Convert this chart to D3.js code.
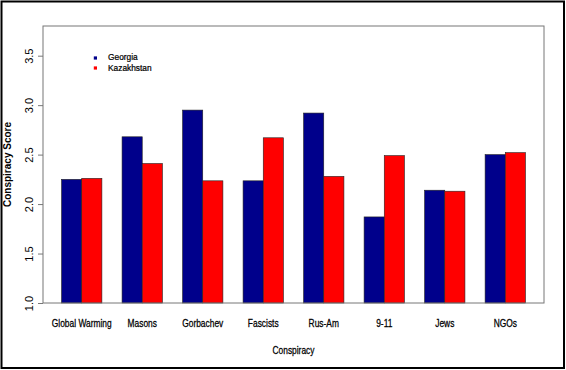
<!DOCTYPE html>
<html>
<head>
<meta charset="utf-8">
<script src="https://cdn.jsdelivr.net/npm/d3@7"></script>
<style>
  html, body { margin: 0; padding: 0; background: #fff; }
  svg { display: block; }
  text { font-family: "Liberation Sans", Arial, sans-serif; fill: #000; }
  .heavy { stroke: #000; stroke-width: 0.25px; }
</style>
</head>
<body>
<script>
const categories = ["Global Warming", "Masons", "Gorbachev", "Fascists", "Rus-Am", "9-11", "Jews", "NGOs"];
const seriesNames = ["Georgia", "Kazakhstan"];
const georgia = [2.25, 2.68, 2.95, 2.235, 2.92, 1.87, 2.14, 2.50];
const kazakhstan = [2.26, 2.41, 2.235, 2.67, 2.28, 2.49, 2.13, 2.52];
const yTicks = [1.0, 1.5, 2.0, 2.5, 3.0, 3.5];
const colors = ["#00008B", "#FF0000"];

const W = 566, H = 370;
const box = { left: 43, right: 544, top: 26, bottom: 303 };
const NARROW = 0.84;

const svg = d3.select("body").append("svg").attr("width", W).attr("height", H);

// outer frame
svg.append("rect").attr("x", 1.5).attr("y", 1.5).attr("width", W - 3.5).attr("height", H - 3.5)
  .attr("fill", "none").attr("stroke", "#000").attr("stroke-width", 2);

// unit scale (R barplot style: 24 units, 4% expansion)
const u = d3.scaleLinear().domain([0.08, 24.92]).range([box.left, box.right]);
const x0 = d3.scaleBand().domain(categories)
  .range([u(0.5), u(24.5)]).paddingInner(1/3).paddingOuter(1/6);
const x1 = d3.scaleBand().domain(seriesNames).range([0, x0.bandwidth()]);
const y = d3.scaleLinear().domain([1, 3.8]).range([box.bottom, box.top]);

const data = categories.map((c, i) => ({ cat: c, vals: [georgia[i], kazakhstan[i]] }));

const g = svg.append("g");
g.selectAll("g.grp").data(data).enter().append("g")
  .attr("transform", d => `translate(${x0(d.cat)},0)`)
  .selectAll("rect").data(d => d.vals.map((v, j) => ({ s: seriesNames[j], v, j })))
  .enter().append("rect")
  .attr("x", d => x1(d.s))
  .attr("y", d => y(d.v))
  .attr("width", x1.bandwidth())
  .attr("height", d => y(1) - y(d.v))
  .attr("fill", d => colors[d.j])
  .attr("stroke", "#222").attr("stroke-width", 0.6);

// plot box
svg.append("rect").attr("x", box.left).attr("y", box.top)
  .attr("width", box.right - box.left).attr("height", box.bottom - box.top)
  .attr("fill", "none").attr("stroke", "#777").attr("stroke-width", 1);

// y axis
const yAxis = d3.axisLeft(y).tickValues(yTicks).tickFormat(d3.format(".1f")).tickSize(5).tickPadding(0);
const ya = svg.append("g").attr("transform", `translate(${box.left},0)`).call(yAxis);
ya.select(".domain").remove();
ya.selectAll(".tick line").attr("stroke", "#777");
ya.selectAll(".tick text")
  .attr("x", 0).attr("dy", 0)
  .attr("text-anchor", "middle")
  .attr("transform", "translate(-10,0) rotate(-90)")
  .style("font-size", "11px");

// x axis labels (condensed)
const xAxis = d3.axisBottom(x0).tickSize(0).tickPadding(0);
const xa = svg.append("g").attr("transform", `translate(0,${box.bottom})`).call(xAxis);
xa.select(".domain").remove();
xa.selectAll(".tick text").attr("y", 0).attr("dy", 0)
  .attr("class", "heavy")
  .attr("transform", `translate(0,24) scale(${NARROW},1)`)
  .style("font-size", "10px");

// axis titles
svg.append("text").attr("class", "heavy")
  .attr("transform", `translate(${(box.left + box.right) / 2},354) scale(${NARROW},1)`)
  .attr("text-anchor", "middle").style("font-size", "10px").text("Conspiracy");
svg.append("text").attr("transform", `translate(11,${(box.top + box.bottom) / 2}) rotate(-90)`)
  .attr("text-anchor", "middle")
  .style("font-weight", "bold").style("font-size", "10px").text("Conspiracy Score");

// legend
const leg = svg.append("g");
seriesNames.forEach((s, i) => {
  const ly = 58 + i * 10;
  leg.append("rect").attr("x", 93.8).attr("y", ly - 1.6).attr("width", 3.2).attr("height", 3.2).attr("fill", colors[i]);
  leg.append("text").attr("class", "heavy")
    .attr("transform", `translate(108,${ly + 1.8 + i}) scale(0.88,1)`)
    .style("font-size", "9.5px").text(s);
});
</script>
</body>
</html>
